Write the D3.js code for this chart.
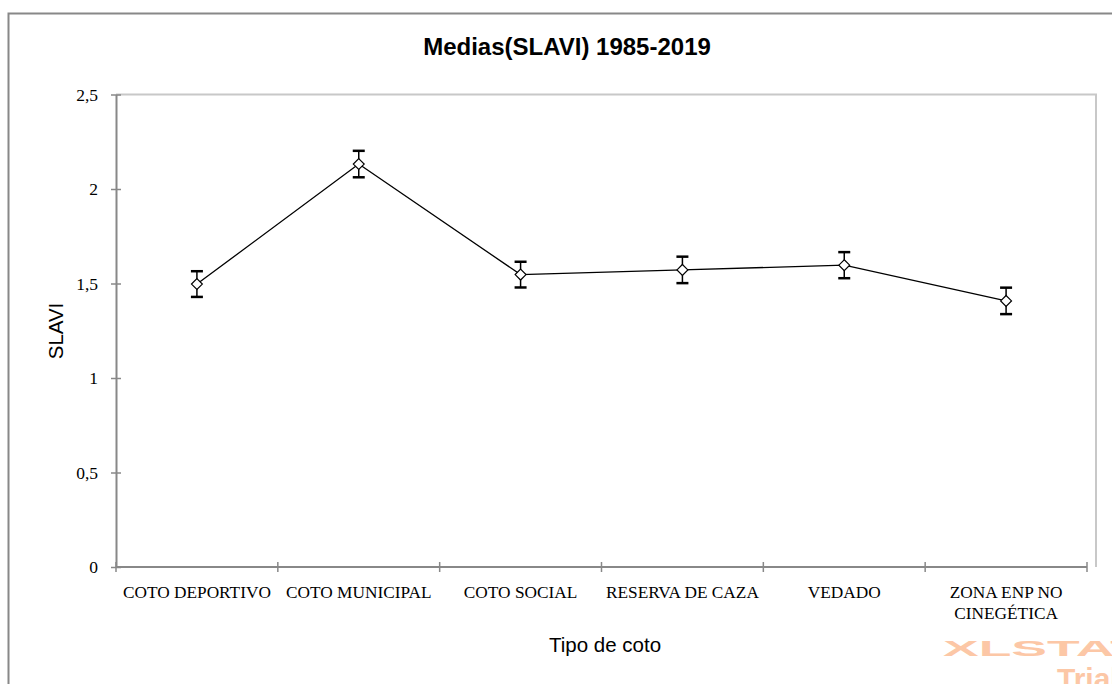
<!DOCTYPE html>
<html>
<head>
<meta charset="utf-8">
<script src="https://cdn.jsdelivr.net/npm/d3@7"></script>
<style>
  html, body { margin: 0; padding: 0; background: #fff; }
  svg { display: block; }
</style>
</head>
<body>
<svg id="chart" width="1112" height="684"></svg>
<script>
// Mean SLAVI per hunting-ground type, 1985-2019, with error half-widths
const categories = ["COTO DEPORTIVO", "COTO MUNICIPAL", "COTO SOCIAL", "RESERVA DE CAZA", "VEDADO", "ZONA ENP NO CINEGÉTICA"];
const means = [1.497, 2.132, 1.547, 1.572, 1.597, 1.408];
const errors = [0.068, 0.07, 0.068, 0.07, 0.069, 0.07];
const yTicks = [0, 0.5, 1, 1.5, 2, 2.5];

(function () {
const svg = d3.select("#chart");
const pLeft = 116, pRight = 1087, pTop = 94.5, pBottom = 567;
const serif = "Liberation Serif, Times New Roman, serif";
const sans = "Liberation Sans, Arial, sans-serif";

const x = d3.scaleBand().domain(categories).range([pLeft, pRight]).padding(0);
const y = d3.scaleLinear().domain([0, 2.5]).range([pBottom, pTop]);
const fmt = d => String(d).replace(".", ",");

// outer chart frame
svg.append("rect").attr("x", 8.5).attr("y", 13.5).attr("width", 1120).attr("height", 700)
  .attr("fill", "none").attr("stroke", "#888").attr("stroke-width", 2);

// plot-area frame (top and right edges)
svg.append("path")
  .attr("d", `M${pLeft},${pTop}H1096V${pBottom}`)
  .attr("fill", "none").attr("stroke", "#c8c8c8").attr("stroke-width", 2);

// title
svg.append("text").attr("x", 567).attr("y", 55).attr("text-anchor", "middle")
  .attr("font-family", sans).attr("font-weight", "bold")
  .attr("font-size", 24).text("Medias(SLAVI) 1985-2019");

// y axis
const yAxis = svg.append("g").attr("transform", `translate(${pLeft},0)`)
  .call(d3.axisLeft(y).tickValues(yTicks).tickFormat(fmt).tickSize(5).tickSizeOuter(0));
yAxis.select(".domain").attr("stroke", "#888").attr("stroke-width", 2);
yAxis.selectAll(".tick line").attr("stroke", "#888").attr("stroke-width", 1.5)
  .attr("x1", 5).attr("x2", -5);
yAxis.selectAll(".tick text").attr("x", -18).attr("font-family", serif)
  .attr("font-size", 17.5).attr("fill", "#000");

// x axis
const boundaries = categories.map(c => x(c)).concat([pRight]);
const xg = svg.append("g");
xg.append("line").attr("x1", pLeft).attr("x2", pRight).attr("y1", pBottom).attr("y2", pBottom)
  .attr("stroke", "#888").attr("stroke-width", 2);
xg.selectAll("line.tk").data(boundaries).join("line").attr("class", "tk")
  .attr("x1", d => d).attr("x2", d => d).attr("y1", pBottom - 5).attr("y2", pBottom + 5)
  .attr("stroke", "#888").attr("stroke-width", 1.5);

const labelLines = c => c === "ZONA ENP NO CINEGÉTICA" ? ["ZONA ENP NO", "CINEGÉTICA"] : [c];
xg.selectAll("text.lbl").data(categories).join("text").attr("class", "lbl")
  .attr("x", d => x(d) + x.bandwidth() / 2).attr("y", 598)
  .attr("text-anchor", "middle").attr("font-family", serif)
  .attr("font-size", 17.3).attr("fill", "#000")
  .each(function(d) {
    const t = d3.select(this);
    labelLines(d).forEach((ln, i) => {
      t.append("tspan").attr("x", x(d) + x.bandwidth() / 2).attr("dy", i === 0 ? 0 : 21).text(ln);
    });
  });

// axis titles
svg.append("text").attr("transform", "translate(63,331) rotate(-90)").attr("text-anchor", "middle")
  .attr("font-family", sans).attr("font-size", 20.5).text("SLAVI");
svg.append("text").attr("x", 605).attr("y", 652).attr("text-anchor", "middle")
  .attr("font-family", sans).attr("font-size", 20.5).text("Tipo de coto");

// series line
const cx = c => x(c) + x.bandwidth() / 2;
svg.append("path").datum(categories.map((c, i) => [cx(c), y(means[i])]))
  .attr("d", d3.line()).attr("fill", "none").attr("stroke", "#000").attr("stroke-width", 1.3);

// error bars
const eb = svg.append("g").attr("stroke", "#000");
categories.forEach((c, i) => {
  const px = cx(c), hi = y(means[i] + errors[i]), lo = y(means[i] - errors[i]);
  eb.append("line").attr("x1", px).attr("x2", px).attr("y1", hi).attr("y2", lo).attr("stroke-width", 1.5);
  [hi, lo].forEach(v => eb.append("line").attr("x1", px - 6).attr("x2", px + 6)
    .attr("y1", v).attr("y2", v).attr("stroke-width", 2.5));
});

// diamond markers
svg.append("g").selectAll("path").data(categories).join("path")
  .attr("transform", (d, i) => `translate(${cx(d)},${y(means[i])})`)
  .attr("d", d3.symbol(d3.symbolDiamond2, 75))
  .attr("fill", "#fff").attr("stroke", "#000").attr("stroke-width", 1.2);

// trial watermark
svg.append("text").attr("x", 943).attr("y", 656)
  .attr("font-family", sans).attr("font-weight", "bold")
  .attr("font-size", 22).attr("fill", "#fcc7a6").attr("textLength", 200).attr("lengthAdjust", "spacingAndGlyphs")
  .text("XLSTAT");
svg.append("text").attr("x", 1057).attr("y", 689)
  .attr("font-family", sans).attr("font-weight", "bold")
  .attr("font-size", 30).attr("fill", "#fcc7a6").text("Trial");
})();
</script>
</body>
</html>
